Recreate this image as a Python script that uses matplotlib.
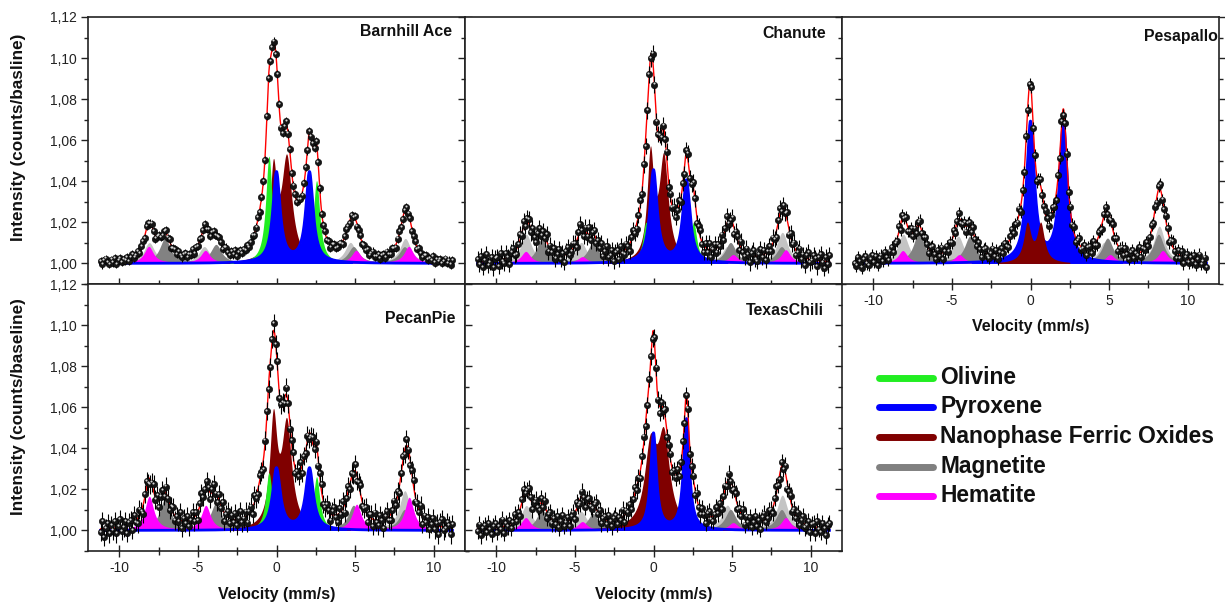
import numpy as np
import matplotlib
matplotlib.use("Agg")
import matplotlib.pyplot as plt
from matplotlib.lines import Line2D
from matplotlib.ticker import MultipleLocator, FuncFormatter

plt.rcParams['font.family'] = ['Liberation Sans', 'DejaVu Sans']
plt.rcParams['axes.unicode_minus'] = False

# ---------------- data ----------------
PANEL_NAMES = ["Barnhill Ace", "Chanute", "Pesapallo", "PecanPie", "TexasChili"]
YLABELS = ["Intensity (counts/basline)", "Intensity (counts/baseline)"]
XLABEL = "Velocity (mm/s)"
LEGEND_LABELS = ["Olivine", "Pyroxene", "Nanophase Ferric Oxides", "Magnetite", "Hematite"]

V_RANGE = (-11.2, 11.2)
N_CHANNELS = 200

# line positions (mm/s)
OL_POS = [-0.48, 2.55]
PX_POS = [0.0, 2.1]
NP_POS = [-0.2, 0.65]
HEM_POS = [-8.1, -4.5, -1.0, 1.7, 5.1, 8.45]
MAGA_POS = [-8.1, -4.6, -1.1, 1.5, 4.7, 8.2]
MAGB_POS = [-7.1, -3.85, -0.65, 1.8, 4.9, 8.15]

# line heights above baseline, per panel
OL_H = [[0.052, 0.040], [0.020, 0.020], [0.0, 0.0], [0.028, 0.026], [0.0076, 0.0076]]
PX_H = [[0.044, 0.044], [0.045, 0.040], [0.068, 0.067], [0.030, 0.030], [0.047, 0.054]]
NP_H = [[0.042, 0.050], [0.050, 0.050], [0.0184, 0.0184], [0.051, 0.050], [0.038, 0.042]]
HEM_H = [[0.008, 0.006, 0.004, 0.004, 0.006, 0.008],
         [0.0056, 0.003, 0.002, 0.002, 0.004, 0.0064],
         [0.006, 0.004, 0.002, 0.002, 0.004, 0.006],
         [0.0165, 0.012, 0.006, 0.0068, 0.0125, 0.016],
         [0.006, 0.004, 0.002, 0.002, 0.0035, 0.006]]
MAGA_H = [[0.010, 0.008, 0.003, 0.003, 0.010, 0.012],
          [0.014, 0.010, 0.003, 0.003, 0.008, 0.015],
          [0.014, 0.013, 0.004, 0.004, 0.010, 0.018],
          [0.006, 0.004, 0.002, 0.002, 0.006, 0.019],
          [0.012, 0.009, 0.003, 0.003, 0.012, 0.017]]
MAGB_H = [[0.012, 0.009, 0.003, 0.003, 0.008, 0.008],
          [0.012, 0.010, 0.003, 0.003, 0.010, 0.008],
          [0.015, 0.013, 0.004, 0.004, 0.012, 0.014],
          [0.015, 0.013, 0.003, 0.003, 0.012, 0.010],
          [0.010, 0.008, 0.003, 0.003, 0.010, 0.010]]

# half widths (mm/s), per panel (per line for the ferric-oxide doublet)
OL_W = [0.25, 0.25, 0.25, 0.25, 0.25]
PX_W = [0.28, 0.28, 0.30, 0.30, 0.22]
NP_W = [[0.25, 0.40], [0.25, 0.35], [0.28, 0.28], [0.28, 0.38], [0.45, 0.45]]
HEM_W = [0.35, 0.35, 0.35, 0.35, 0.35]
MAGA_W = [0.42, 0.42, 0.42, 0.42, 0.42]
MAGB_W = [0.42, 0.42, 0.42, 0.42, 0.42]

# measured-minus-fit residual pattern (relative units) and per-panel scale
RESID = [0.3, -0.8, 0.5, 1.0, -0.2, -0.9, 0.6, -0.4, 0.9, -1.0, 0.1, 0.7, -0.6, 0.4,
         -0.3, 0.8, -0.7, 0.2, 1.0, -0.5, -0.1, 0.6, -0.9, 0.3, 0.5, -0.8, 0.9, -0.2,
         -0.6, 0.7, 0.0, -1.0, 0.4, 0.8, -0.4, -0.7, 0.2, 0.9, -0.3, 0.6, -0.9, 0.1,
         0.5, -0.5, 0.8, -0.1, -0.8, 0.3, 0.7, -0.6, 0.2, -0.3, 1.0, -0.9, 0.4, -0.2,
         0.6, -0.7, 0.0, 0.8, -0.5, 0.3, -1.0, 0.5, 0.9, -0.4, -0.1, 0.7]
NOISE_AMP = [0.0015, 0.0035, 0.003, 0.004, 0.0035]
NOISE_SHIFT = [0, 13, 27, 7, 38]
ERR_BAR = [0.002, 0.004, 0.003, 0.0045, 0.004]

# ---------------- style ----------------
W, H = 1225, 605
AX_PX = [(88, 17), (465, 17), (842, 17), (88, 284), (465, 284)]
AX_W, AX_H = 377, 267
TITLE_POS = [(0.9655, 0.944), (0.958, 0.940), (0.9966, 0.926), (0.9735, 0.8715), (0.953, 0.9026)]
COL = {"ol": "#22ee22", "px": "#0000ff", "np": "#800000", "maga": "#c4c4c4",
       "magb": "#828282", "hem": "#ff00ff"}
ORDER = [["maga", "magb", "hem", "np", "ol", "px"]] * 5
ORDER[2] = ["maga", "magb", "hem", "px", "np", "ol"]
LEGEND_COLORS = [COL["ol"], COL["px"], COL["np"], "#808080", COL["hem"]]


def lor(v, pos, h, g):
    out = np.zeros_like(v)
    gs = g if np.ndim(g) else [g] * len(pos)
    for p, a, w in zip(pos, h, gs):
        out += a / (1.0 + ((v - p) / w) ** 2)
    return out


fig = plt.figure(figsize=(W / 100, H / 100), dpi=100)
fig.patch.set_facecolor("white")

vf = np.linspace(-11.2, 11.2, 1500)
vd = np.linspace(V_RANGE[0], V_RANGE[1], N_CHANNELS)
comma = FuncFormatter(lambda x, p: f"{x:.2f}".replace(".", ","))

for i, name in enumerate(PANEL_NAMES):
    x0, y0 = AX_PX[i]
    ax = fig.add_axes([x0 / W, 1 - (y0 + AX_H) / H, AX_W / W, AX_H / H])
    comps = {
        "ol": (OL_POS, OL_H[i], OL_W[i]),
        "px": (PX_POS, PX_H[i], PX_W[i]),
        "np": (NP_POS, NP_H[i], NP_W[i]),
        "hem": (HEM_POS, HEM_H[i], HEM_W[i]),
        "maga": (MAGA_POS, MAGA_H[i], MAGA_W[i]),
        "magb": (MAGB_POS, MAGB_H[i], MAGB_W[i]),
    }
    total_f = np.zeros_like(vf)
    total_d = np.zeros_like(vd)
    for z, key in enumerate(ORDER[i]):
        pos, h, g = comps[key]
        if max(h) <= 0:
            continue
        yc = lor(vf, pos, h, g)
        total_f += yc
        total_d += lor(vd, pos, h, g)
        ax.fill_between(vf, 1.0, 1.0 + yc, where=yc > 0.0006, color=COL[key], lw=0,
                        zorder=2 + z * 0.1)
        if key == "px":
            ax.plot(vf, 1.0 + yc, color=COL[key], lw=2.0, zorder=2 + z * 0.1 + 0.05)
    ax.plot(vf, 1.0 + total_f, color="#ff0000", lw=1.0, zorder=4)
    res = np.array(RESID)[(np.arange(N_CHANNELS) + NOISE_SHIFT[i]) % len(RESID)] * NOISE_AMP[i]
    yd = 1.0 + total_d + res
    ax.vlines(vd, yd - ERR_BAR[i], yd + ERR_BAR[i], color="black", lw=0.8, zorder=5)
    ax.plot(vd, yd, "o", ms=4.6, mfc="#151515", mec="#000000", mew=0.4, zorder=6)
    ax.plot(vd - 0.04, yd + 0.0006, "o", ms=1.5, mfc="#d8d8d8", mec="none", zorder=7)

    ax.set_xlim(-12, 12)
    ax.set_ylim(0.990, 1.12)
    ax.xaxis.set_major_locator(MultipleLocator(5))
    ax.xaxis.set_minor_locator(MultipleLocator(2.5))
    ax.yaxis.set_major_locator(MultipleLocator(0.02))
    ax.yaxis.set_minor_locator(MultipleLocator(0.01))
    ax.yaxis.set_major_formatter(comma)
    for s in ax.spines.values():
        s.set_linewidth(1.2)
        s.set_color("#222222")

    ydir = "in" if i == 4 else "out"
    ax.tick_params(axis="y", which="both", left=True, right=True, direction=ydir,
                   labelleft=(i in (0, 3)), labelsize=10, pad=3, colors="#222222")
    ax.tick_params(axis="y", which="major", length=5, width=1.0)
    ax.tick_params(axis="y", which="minor", length=3, width=1.0)
    show_x = i in (2, 3, 4)
    ax.tick_params(axis="x", which="both", bottom=True, top=False, direction="inout",
                   labelbottom=show_x, labelsize=10, pad=3, colors="#222222")
    ax.tick_params(axis="x", which="major", length=9, width=1.0)
    ax.tick_params(axis="x", which="minor", length=6, width=1.0)
    if show_x:
        ax.text(0.5, -43 / AX_H, XLABEL, transform=ax.transAxes, ha="center", va="center",
                fontsize=11.5, fontweight="bold", color="#111111")
    tx, ty = TITLE_POS[i]
    ax.text(tx, ty, name, transform=ax.transAxes, ha="right", va="center",
            fontsize=11.4, fontweight="bold", color="#111111", zorder=10)

fig.text(19 / W, 1 - 137 / H, YLABELS[0], rotation=90, ha="center", va="center",
         fontsize=12.3, fontweight="bold", color="#111111")
fig.text(19 / W, 1 - 407 / H, YLABELS[1], rotation=90, ha="center", va="center",
         fontsize=12.3, fontweight="bold", color="#111111")

# legend
LEG_Y = [378, 407, 437, 466.5, 496]
for lab, c, yy in zip(LEGEND_LABELS, LEGEND_COLORS, LEG_Y):
    fig.add_artist(Line2D([879 / W, 933 / W], [1 - yy / H, 1 - yy / H], transform=fig.transFigure,
                          color=c, lw=5, solid_capstyle="round"))
    fig.text(940 / W, 1 - yy / H, lab, ha="left", va="center", fontsize=16.4,
             fontweight="bold", color="#111111")

fig.savefig("out.png", dpi=100, facecolor="white")
